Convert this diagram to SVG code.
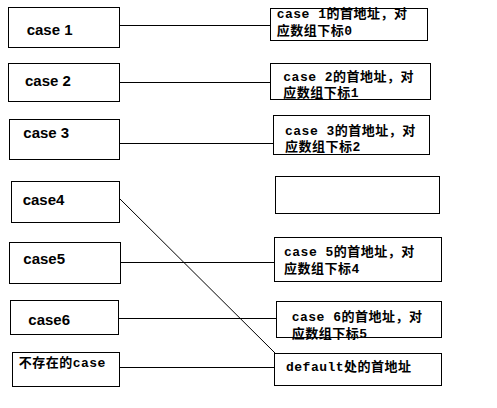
<svg xmlns="http://www.w3.org/2000/svg" width="497" height="408" viewBox="0 0 497 408">
<style>
rect{fill:#fff;stroke:#000;stroke-width:1}
.c line{stroke:#000;stroke-width:1}
.l{font-family:"Liberation Sans","Noto Sans CJK SC",sans-serif;font-weight:bold;font-size:15px;fill:#000}
.r{font-family:"Liberation Mono","Noto Sans CJK SC",monospace;font-weight:bold;font-size:13px;letter-spacing:0.5px;fill:#000}
</style>
<rect x="0" y="0" width="497" height="408" style="stroke:none"/>
<g class="c" id="connectors">
<line x1="119.5" y1="25.5" x2="270.5" y2="25.5"/>
<line x1="119.5" y1="82.5" x2="270.5" y2="82.5"/>
<line x1="119.5" y1="143.5" x2="273.5" y2="143.5"/>
<line x1="119.5" y1="198.5" x2="275" y2="353"/>
<line x1="120.5" y1="262.5" x2="274.5" y2="262.5"/>
<line x1="118.5" y1="318.5" x2="276.5" y2="318.5"/>
<line x1="119.5" y1="367.5" x2="274.5" y2="367.5"/>
</g>
<g id="case1"><rect x="8.5" y="7.5" width="111" height="40"/><text class="l" x="26.7" y="35">case 1</text></g>
<g id="case2"><rect x="8.5" y="63.5" width="111" height="38"/><text class="l" x="25" y="86">case 2</text></g>
<g id="case3"><rect x="9.5" y="119.5" width="110" height="40"/><text class="l" x="23.3" y="138">case 3</text></g>
<g id="case4"><rect x="11.5" y="181.5" width="108" height="41"/><text class="l" x="22.7" y="205">case4</text></g>
<g id="case5"><rect x="9.5" y="242.5" width="111" height="41"/><text class="l" x="23.3" y="263.5">case5</text></g>
<g id="case6"><rect x="10.5" y="300.5" width="108" height="34"/><text class="l" x="28.3" y="325">case6</text></g>
<g id="nocase"><rect x="12.5" y="352.5" width="107" height="34"/><text class="r" x="18.7" y="366.5">不存在的case</text></g>
<g id="addr1"><rect x="270.5" y="8.5" width="157" height="32"/><text class="r" x="276.7" y="18">case 1的首地址，对</text><text class="r" x="276.7" y="34.5">应数组下标0</text></g>
<g id="addr2"><rect x="270.5" y="63.5" width="160" height="36"/><text class="r" x="283.3" y="80.5">case 2的首地址，对</text><text class="r" x="283.3" y="96.5">应数组下标1</text></g>
<g id="addr3"><rect x="273.5" y="115.5" width="156" height="39"/><text class="r" x="285" y="134.5">case 3的首地址，对</text><text class="r" x="285" y="151">应数组下标2</text></g>
<g id="addr4"><rect x="275.5" y="176.5" width="164" height="37"/></g>
<g id="addr5"><rect x="274.5" y="237.5" width="167" height="44"/><text class="r" x="284" y="256">case 5的首地址，对</text><text class="r" x="284" y="273.3">应数组下标4</text></g>
<g id="addr6"><rect x="276.5" y="301.5" width="165" height="36"/><text class="r" x="291.7" y="321">case 6的首地址，对</text><text class="r" x="291.7" y="338.3">应数组下标5</text></g>
<g id="default"><rect x="274.5" y="353.5" width="167" height="32"/><text class="r" x="286" y="371">default处的首地址</text></g>
</svg>
